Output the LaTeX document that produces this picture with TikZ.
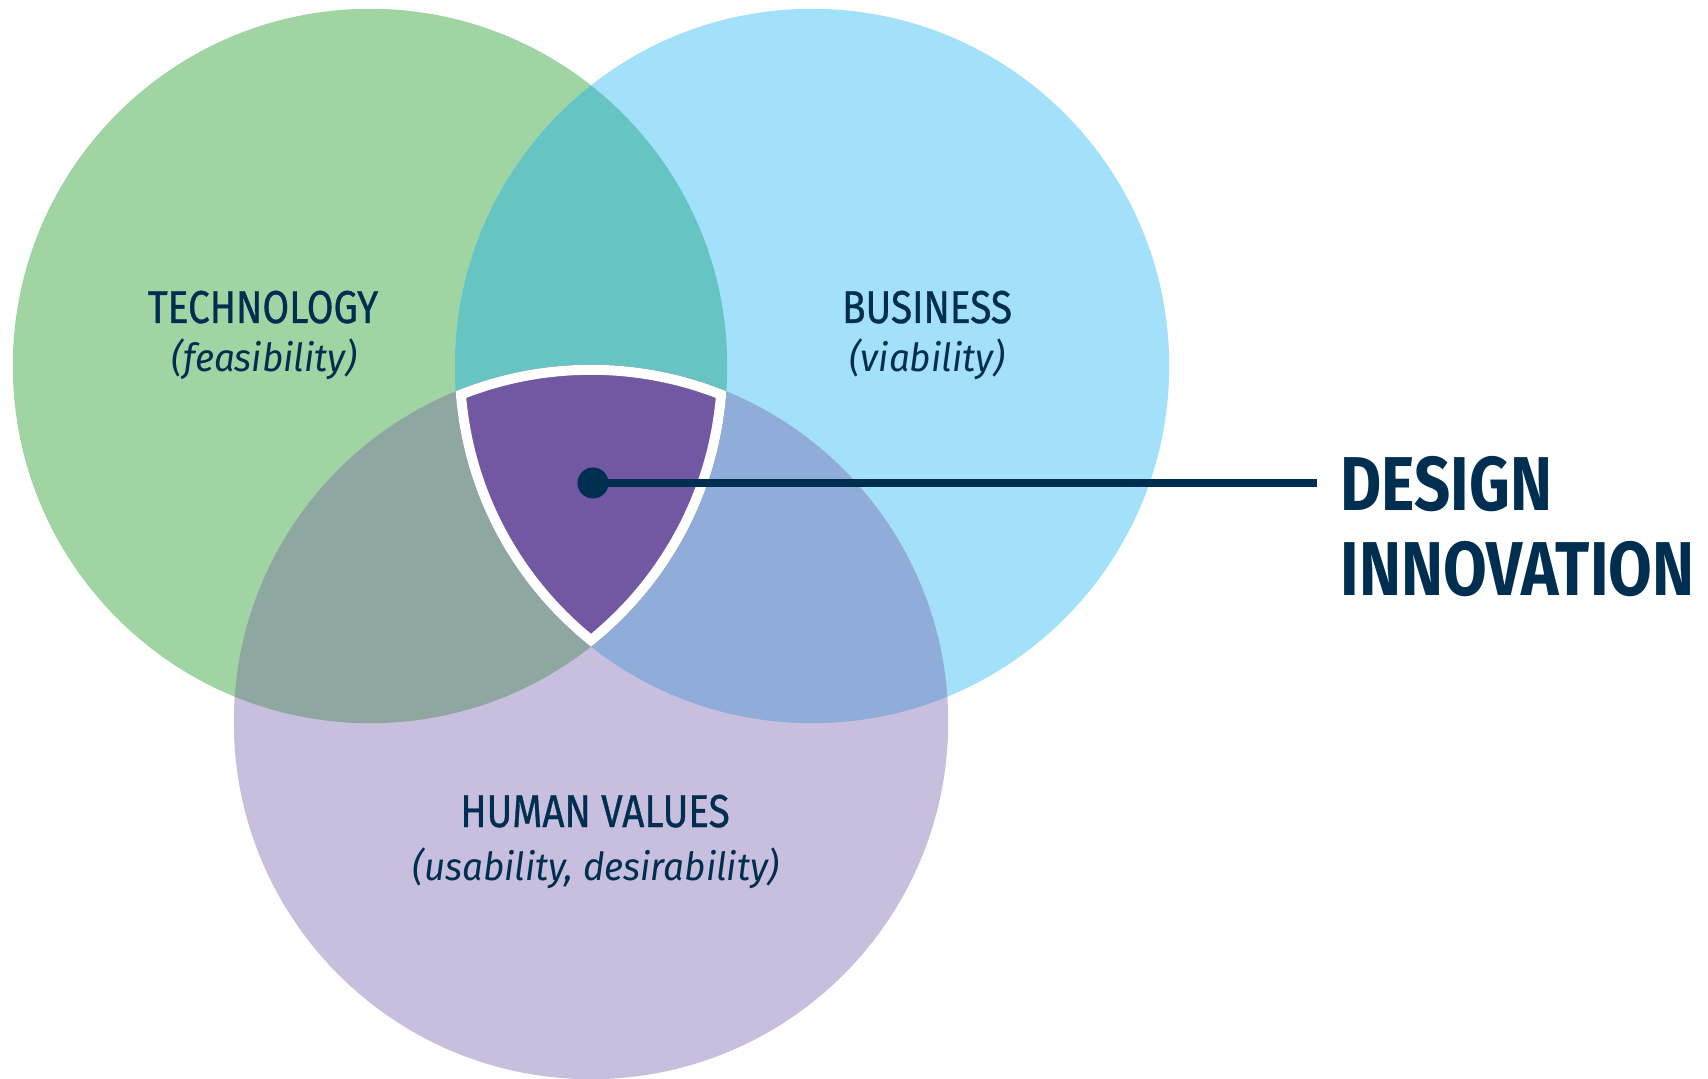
\documentclass[tikz,border=0pt]{standalone}
\usepackage{fontspec}
\setmainfont{Fira Sans}
\newfontfamily\headfont{Fira Sans}[FakeStretch=0.84, FakeBold=0.7]
\newfontfamily\bigfont{Fira Sans}[FakeStretch=0.83]
\newfontfamily\notefont{Fira Sans}[FakeStretch=0.95]
\usepackage{tikz}

\definecolor{techgreen}{HTML}{A0D4A2}
\definecolor{bizblue}{HTML}{A2E1F9}
\definecolor{humanlilac}{HTML}{C8BEDD}
\definecolor{tealmix}{HTML}{66C5C2}
\definecolor{sagemix}{HTML}{8FA7A1}
\definecolor{bluemix}{HTML}{8FADD8}
\definecolor{corepurple}{HTML}{7257A3}
\definecolor{navy}{HTML}{002E51}

\begin{document}
\begin{tikzpicture}[x=0.01cm, y=-0.01cm,
    title/.style={text=navy, inner sep=0pt, font=\headfont\fontsize{13.1}{15}\selectfont},
    note/.style={text=navy, inner sep=0pt, font=\notefont\itshape\fontsize{11}{13}\selectfont},
    big/.style={text=navy, inner sep=0pt, anchor=base west, font=\bigfont\bfseries\fontsize{21.7}{26}\selectfont},
    dot/.style={circle, fill=navy, inner sep=0pt, minimum size=0.31cm},
    leader/.style={navy, line width=0.08cm}]

\useasboundingbox (0,0) rectangle (1708,1079);

\coordinate (T) at (370,366); % technology
\coordinate (B) at (812,366); % business
\coordinate (H) at (591,722); % human values

    \fill[techgreen] (T) circle (3.57cm);
    \fill[bizblue] (B) circle (3.57cm);
    \fill[humanlilac] (H) circle (3.57cm);

\begin{scope}
    \clip (T) circle (3.57cm);   % restrain in T
    \fill[tealmix] (B) circle (3.57cm); % T and B
\end{scope}

\begin{scope}
    \clip (T) circle (3.57cm);   % restrain in T
    \fill[sagemix] (H) circle (3.57cm); % T and H
\end{scope}

\begin{scope}
    \clip (B) circle (3.57cm);   % restrain in B
    \fill[bluemix] (H) circle (3.57cm); % B and H
\end{scope}

\begin{scope}
    \clip (T) circle (3.57cm);
    \clip (B) circle (3.57cm);
    \clip (H) circle (3.57cm);  % all three
    \fill[corepurple] (H) circle (3.57cm);
    \draw[white, line width=0.2cm] (T) circle (3.57cm) (B) circle (3.57cm) (H) circle (3.57cm);
\end{scope}

    \node[title, anchor=base] (tech) at (263,323) {TECHNOLOGY};
    \node[note, anchor=base] (feas) at (264,372) {(feasibility)};
    \node[title, anchor=base] (biz) at (927,323) {BUSINESS};
    \node[note, anchor=base] (viab) at (927,372) {(viability)};
    \node[title, anchor=base] (human) at (595,827) {HUMAN VALUES};
    \node[note, anchor=base] (usab) at (596,880) {(usability, desirability)};

    \node[dot] (core) at (593,483) {};
    \coordinate (lead) at (1317,483);
    \draw[leader] (core.center) -- (lead);

    \node[big] (design) at (1340,511) {DESIGN};
    \node[big] (innov) at (1340,596) {INNOVATION};

\end{tikzpicture}
\end{document}
